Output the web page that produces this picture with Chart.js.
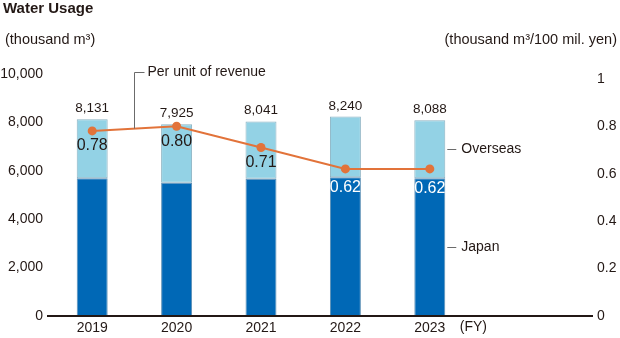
<!DOCTYPE html>
<html>
<head>
<meta charset="utf-8">
<script src="https://cdn.jsdelivr.net/npm/chart.js@4/dist/chart.umd.min.js"></script>
<style>
  html, body { margin: 0; padding: 0; background: #fff; }
  #wrap { position: relative; width: 620px; height: 338px; font-family: "Liberation Sans", Arial, sans-serif; color: #231815; }
  #c { position: absolute; left: 0; top: 0; }
  .t { position: absolute; white-space: nowrap; }
  #title { left: 3px; top: -1px; font-size: 15px; font-weight: bold; }
  #unitL { left: 5px; top: 31px; font-size: 14.5px; }
  #unitR { right: 3px; top: 31px; font-size: 14.5px; }
</style>
</head>
<body>
<div id="wrap">
  <canvas id="c" width="620" height="338"></canvas>
  <div class="t" id="title">Water Usage</div>
  <div class="t" id="unitL">(thousand m³)</div>
  <div class="t" id="unitR">(thousand m³/100 mil. yen)</div>
</div>
<script>
// ---- data ----
const years = ["2019", "2020", "2021", "2022", "2023"];
const japan = [5695, 5502, 5667, 5737, 5695];
const overseas = [2436, 2423, 2374, 2503, 2393];
const totals = [8131, 7925, 8041, 8240, 8088];
const perRevenue = [0.78, 0.80, 0.71, 0.62, 0.62];
const leftTicks = [0, 2000, 4000, 6000, 8000, 10000];
const rightTicks = [0, 0.2, 0.4, 0.6, 0.8, 1];

const INK = "#231815";
const FONT = "'Liberation Sans', Arial, sans-serif";

const overlay = {
  id: "overlay",
  afterDatasetsDraw(chart) {
    const ctx = chart.ctx;
    const ca = chart.chartArea;
    const yS = chart.scales.y;
    const jMeta = chart.getDatasetMeta(0);
    const oMeta = chart.getDatasetMeta(1);
    const lMeta = chart.getDatasetMeta(2);
    ctx.save();

    // baseline
    ctx.strokeStyle = INK;
    ctx.lineWidth = 2;
    ctx.beginPath();
    ctx.moveTo(ca.left - 3, yS.getPixelForValue(0));
    ctx.lineTo(593, yS.getPixelForValue(0));
    ctx.stroke();

    // totals above bars
    ctx.fillStyle = INK;
    ctx.font = "13.5px " + FONT;
    ctx.textAlign = "center";
    ctx.textBaseline = "bottom";
    oMeta.data.forEach((el, i) => {
      ctx.fillText(totals[i].toLocaleString("en-US"), el.x, el.y - 4);
    });

    // line value labels (white inside the Japan bar when they fall there)
    ctx.font = "16px " + FONT;
    ctx.textBaseline = "middle";
    lMeta.data.forEach((pt, i) => {
      let ly = pt.y + 15;
      const jTop = jMeta.data[i].y;
      let col = INK;
      if (ly + 7 > jTop) { ly = Math.max(ly, jTop + 10); col = "#ffffff"; }
      ctx.fillStyle = col;
      ctx.fillText(perRevenue[i].toFixed(2), pt.x, ly);
    });

    // leader "Per unit of revenue"
    const p0 = lMeta.data[0], p1 = lMeta.data[1];
    const lx = Math.round((p0.x + p1.x) / 2) + 0.5;
    const ly = (p0.y + p1.y) / 2;
    const ty = ca.top - 1.5;
    ctx.strokeStyle = "#6b6b6b";
    ctx.lineWidth = 1;
    ctx.beginPath();
    ctx.moveTo(lx, ly);
    ctx.lineTo(lx, ty);
    ctx.lineTo(lx + 10, ty);
    ctx.stroke();
    ctx.fillStyle = INK;
    ctx.font = "14px " + FONT;
    ctx.textAlign = "left";
    ctx.fillText("Per unit of revenue", lx + 13, ty);

    // series labels at last bar
    const last = years.length - 1;
    const oEl = oMeta.data[last], jEl = jMeta.data[last];
    const bx = oEl.x + oEl.width / 2 + 2;
    const oy = Math.round((oEl.y + oEl.base) / 2) + 0.5;
    const jy = Math.round((jEl.y + jEl.base) / 2) + 0.5;
    ctx.beginPath();
    ctx.moveTo(bx, oy); ctx.lineTo(bx + 9, oy);
    ctx.moveTo(bx, jy); ctx.lineTo(bx + 9, jy);
    ctx.stroke();
    ctx.fillText("Overseas", bx + 14, oy);
    ctx.fillText("Japan", bx + 14, jy);

    // (FY)
    const xS = chart.scales.x;
    ctx.textBaseline = "middle";
    ctx.fillText("(FY)", xS.getPixelForValue(last) + 30, 327);

    ctx.restore();
  }
};

new Chart(document.getElementById("c"), {
  data: {
    labels: years,
    datasets: [
      {
        type: "bar", label: "Japan", data: japan, yAxisID: "y",
        backgroundColor: "#0068b6", borderColor: "#5b8fb5", borderWidth: 1,
        borderSkipped: false, barPercentage: 0.367, categoryPercentage: 1, order: 2
      },
      {
        type: "bar", label: "Overseas", data: overseas, yAxisID: "y",
        backgroundColor: "#93d2e5", borderColor: "#8bb2c2", borderWidth: 1,
        borderSkipped: false, barPercentage: 0.367, categoryPercentage: 1, order: 2
      },
      {
        type: "line", label: "Per unit of revenue", data: perRevenue, yAxisID: "y1",
        borderColor: "#e2733a", backgroundColor: "#e2733a", borderWidth: 2,
        pointRadius: 4.5, pointHoverRadius: 4.5, pointBorderWidth: 0, tension: 0, order: 1
      }
    ]
  },
  options: {
    responsive: false,
    animation: false,
    events: [],
    layout: { padding: { top: 74, right: 0, bottom: 0, left: 0 } },
    plugins: { legend: { display: false }, tooltip: { enabled: false } },
    scales: {
      x: {
        stacked: true,
        offset: true,
        grid: { display: false, drawTicks: false },
        border: { display: false },
        ticks: { color: INK, font: { family: FONT, size: 14 }, padding: 4, maxRotation: 0 },
        afterFit(s) { s.height = 22; }
      },
      y: {
        stacked: true, position: "left", min: 0, max: 10000,
        grid: { display: false, drawTicks: false },
        border: { display: false },
        afterBuildTicks(s) { s.ticks = leftTicks.map(v => ({ value: v })); },
        ticks: {
          color: INK, font: { family: FONT, size: 14 }, padding: 7, autoSkip: false,
          callback: v => v.toLocaleString("en-US")
        },
        afterFit(s) { s.width = 50; s.paddingTop = 0; s.paddingBottom = 0; }
      },
      y1: {
        position: "right", min: 0, max: 1.02,
        grid: { display: false, drawTicks: false },
        border: { display: false },
        afterBuildTicks(s) { s.ticks = rightTicks.map(v => ({ value: v })); },
        ticks: {
          color: INK, font: { family: FONT, size: 14 }, padding: 125, autoSkip: false,
          callback: v => String(v)
        },
        afterFit(s) { s.width = 148; s.paddingTop = 0; s.paddingBottom = 0; }
      }
    }
  },
  plugins: [overlay]
});
</script>
</body>
</html>
